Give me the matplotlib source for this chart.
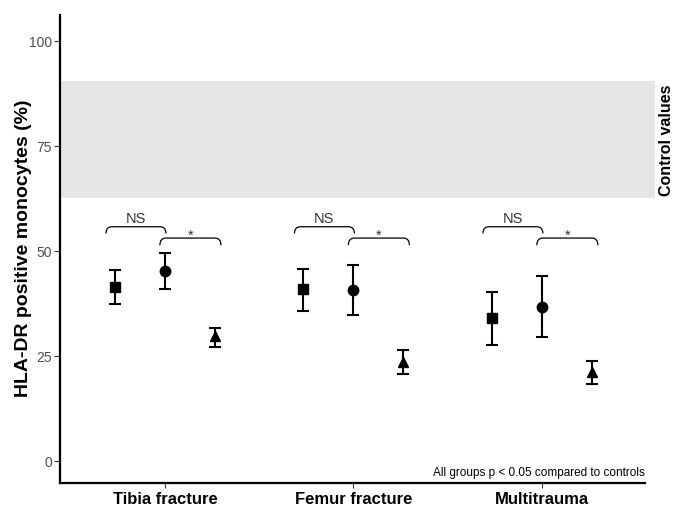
import matplotlib
matplotlib.use("Agg")
import matplotlib.pyplot as plt
from matplotlib.path import Path
from matplotlib.patches import PathPatch, Rectangle
import numpy as np

plt.rcParams['font.family'] = ['Liberation Sans', 'DejaVu Sans']

# Groups and HLA-DR positive monocyte percentages (mean with lower/upper error limits)
groups = ["Tibia fracture", "Femur fracture", "Multitrauma"]
square_mean = [41.4, 40.9, 34.0]
square_low = [37.4, 35.7, 27.6]
square_high = [45.4, 45.7, 40.2]
circle_mean = [45.2, 40.7, 36.6]
circle_low = [40.9, 34.7, 29.5]
circle_high = [49.5, 46.6, 44.0]
triangle_mean = [29.7, 23.6, 21.2]
triangle_low = [27.1, 20.7, 18.3]
triangle_high = [31.6, 26.4, 23.8]

# Reference range of healthy controls
control_low = 62.6
control_high = 90.4

yticks = [0, 25, 50, 75, 100]

fig = plt.figure(figsize=(6.75, 5.07), dpi=100)
ax = fig.add_axes([60 / 675, 1 - 483 / 507, 585 / 675, 468 / 507])

x = np.arange(1, len(groups) + 1)
dodge = 0.265

# control band, running a bit past the end of the x axis
band = Rectangle((0, control_low), 1.017, control_high - control_low,
                 transform=ax.get_yaxis_transform(), facecolor="#e6e6e8",
                 edgecolor="none", clip_on=False, zorder=0)
ax.add_patch(band)
ax.text(1.0375, (control_low + control_high) / 2, "Control values",
        transform=ax.get_yaxis_transform(), rotation=90, ha="center",
        va="center", fontsize=11.5, fontweight="bold")

series = [
    (x - dodge, square_mean, square_low, square_high, "s", 7),
    (x, circle_mean, circle_low, circle_high, "o", 7.5),
    (x + dodge, triangle_mean, triangle_low, triangle_high, "^", 6.5),
]
for xs, m, lo, hi, mk, ms in series:
    m = np.array(m)
    err = [m - np.array(lo), np.array(hi) - m]
    ax.errorbar(xs, m, yerr=err, fmt=mk, color="black", markersize=ms,
                capsize=4.5, elinewidth=1.5, capthick=1.5, zorder=3)


def bracket(x0, x1, ytop, ybot, label, label_y, fs):
    dx = 0.032
    verts = [(x0, ybot), (x0, ytop), (x0 + dx, ytop),
             (x1 - dx, ytop), (x1, ytop), (x1, ybot)]
    codes = [Path.MOVETO, Path.CURVE3, Path.CURVE3,
             Path.LINETO, Path.CURVE3, Path.CURVE3]
    ax.add_patch(PathPatch(Path(verts, codes), facecolor="none",
                           edgecolor="black", lw=0.9))
    ax.text((x0 + x1) / 2, label_y, label, ha="center", va="bottom",
            fontsize=fs, color="#333333")


for xc in x:
    bracket(xc - 0.313, xc + 0.005, 55.8, 54.2, "NS", 55.9, 10.5)
    bracket(xc - 0.027, xc + 0.297, 53.1, 51.4, "*", 52.0, 10.5)

ax.text(1.0, -4.3, "All groups p < 0.05 compared to controls", ha="right",
        va="bottom", fontsize=8.5, transform=ax.get_yaxis_transform())

ax.set_xlim(0.443, 3.547)
ax.set_ylim(-5.2, 106.2)
ax.set_xticks(x)
ax.set_xticklabels(groups, fontsize=12, fontweight="bold")
ax.set_yticks(yticks)
ax.set_yticklabels([str(t) for t in yticks], fontsize=10, color="#4d4d4d")
ax.tick_params(axis="both", length=4.3, width=0.8, color="#333333", pad=1.5)
ax.tick_params(axis="x", length=3.5, pad=3)

fig.text(24 / 675, 1 - 248 / 507, "HLA-DR positive monocytes (%)",
         rotation=90, ha="center", va="center", fontsize=14, fontweight="bold")

for side in ["top", "right"]:
    ax.spines[side].set_visible(False)
for side in ["left", "bottom"]:
    ax.spines[side].set_linewidth(1.6)

fig.savefig("out.png", dpi=100)
